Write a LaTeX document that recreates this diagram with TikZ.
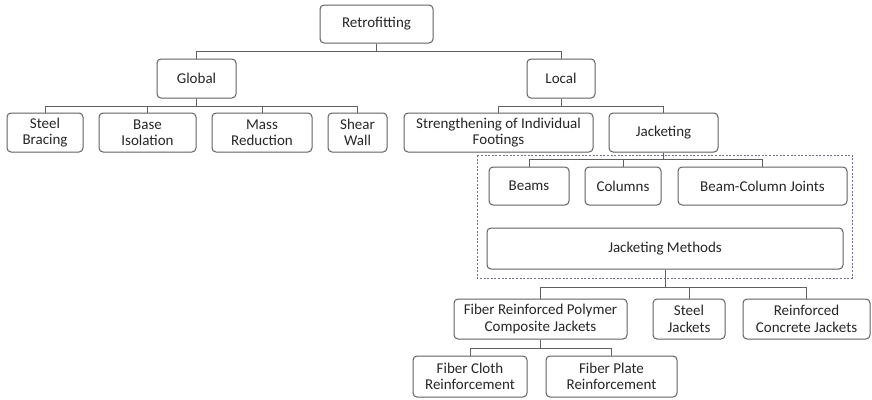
\documentclass[tikz,border=0pt]{standalone}
\usepackage{fontspec}
\setmainfont{Carlito}
\definecolor{boxgray}{HTML}{606060}
\definecolor{dashblue}{HTML}{6C7392}
\begin{document}
\begin{tikzpicture}[
                      x=1pt, y=-1pt,
                      treenode/.style = {rectangle, rounded corners=4pt, draw=boxgray, line width=1pt, text=black!85, align=center, inner sep=2pt, font=\fontsize{15}{16.5}\selectfont},
                      link/.style = {draw=boxgray, line width=1pt},
                      groupbox/.style = {draw=dashblue, line width=0.9pt, dash pattern=on 2pt off 1.6pt}
                  ]
                  \useasboundingbox (0,0) rectangle (872,399);
                  \draw[groupbox] (477,155) rectangle (852,278);
                  % top levels
                  \node[treenode, minimum width=113pt, minimum height=38pt] (retro) at (376.5,24) {Retrofitting};
                  \node[treenode, minimum width=79pt, minimum height=39pt] (global) at (196.5,78.5) {Global};
                  \node[treenode, minimum width=68pt, minimum height=39pt] (local) at (561,78.5) {Local};
                  % global methods
                  \node[treenode, minimum width=76pt, minimum height=39pt] (bracing) at (45,132.5) {Steel\\Bracing};
                  \node[treenode, minimum width=97pt, minimum height=39pt] (isolation) at (147.5,132.5) {Base\\Isolation};
                  \node[treenode, minimum width=100pt, minimum height=39pt] (mass) at (262,132.5) {Mass\\Reduction};
                  \node[treenode, minimum width=59pt, minimum height=39pt] (shear) at (357.5,132.5) {Shear\\Wall};
                  % local methods
                  \node[treenode, minimum width=189pt, minimum height=39pt] (footing) at (498.5,132.5) {Strengthening of Individual\\Footings};
                  \node[treenode, minimum width=109pt, minimum height=39pt] (jacket) at (663.5,132.5) {Jacketing};
                  \node[treenode, minimum width=80pt, minimum height=38pt] (beams) at (529,186) {Beams};
                  \node[treenode, minimum width=76pt, minimum height=38pt] (columns) at (623,186) {Columns};
                  \node[treenode, minimum width=169pt, minimum height=38pt] (joints) at (762.5,186) {Beam-Column Joints};
                  \node[treenode, minimum width=356pt, minimum height=41pt] (methods) at (665,248.5) {Jacketing Methods};
                  % jacket types
                  \node[treenode, minimum width=173pt, minimum height=40pt] (frp) at (540.5,319) {Fiber Reinforced Polymer\\Composite Jackets};
                  \node[treenode, minimum width=72pt, minimum height=40pt] (steelj) at (689,319) {Steel\\Jackets};
                  \node[treenode, minimum width=127pt, minimum height=40pt] (rcj) at (806.5,319) {Reinforced\\Concrete Jackets};
                  \node[treenode, minimum width=114pt, minimum height=41pt] (cloth) at (470,376.5) {Fiber Cloth\\Reinforcement};
                  \node[treenode, minimum width=131pt, minimum height=41pt] (plate) at (611.5,376.5) {Fiber Plate\\Reinforcement};
                  % connectors
                  \foreach \kid in {global, local}
                    \draw[link] (retro.south) -- ++(0,8) -| (\kid.north);
                  \foreach \kid in {bracing, isolation, mass, shear}
                    \draw[link] (global.south) -- ++(0,8) -| (\kid.north);
                  \foreach \kid in {footing, jacket}
                    \draw[link] (local.south) -- ++(0,8) -| (\kid.north);
                  \foreach \kid in {beams, columns, joints}
                    \draw[link] (jacket.south) -- ++(0,7) -| (\kid.north);
                  \foreach \kid in {frp, steelj, rcj}
                    \draw[link] (methods.south) -- ++(0,18) -| (\kid.north);
                  \foreach \kid in {cloth, plate}
                    \draw[link] (frp.south) -- ++(0,9) -| (\kid.north);
              \end{tikzpicture}
\end{document}
